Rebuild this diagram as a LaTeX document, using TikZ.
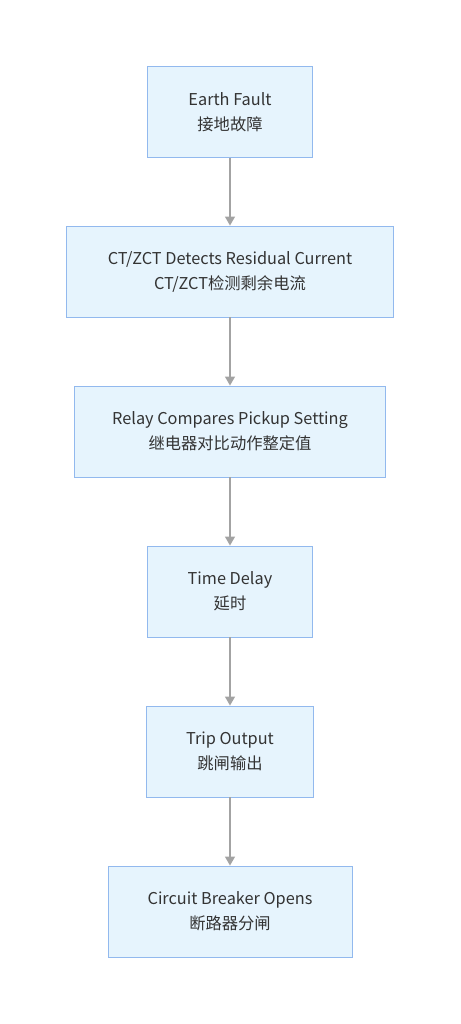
\documentclass[tikz,border=0pt]{standalone}
\usepackage{fontspec}
\setmainfont{Noto Sans CJK SC}
\usetikzlibrary{arrows.meta}

\definecolor{boxFill}{HTML}{E6F4FD}
\definecolor{boxLine}{HTML}{92B9EE}
\definecolor{arrLine}{HTML}{A3A3A3}
\definecolor{txtCol}{HTML}{333333}

\newcommand{\midX }{230pt}
\newcommand{\boxHgt }{91pt}
\newcommand{\linThick }{0.9pt}

\tikzset{
  stepbox/.style={draw=boxLine, fill=boxFill, line width=\linThick, minimum height=\boxHgt,
                  align=center, text=txtCol, font=\fontsize{16.3}{25}\selectfont, inner sep=0pt},
  flowarrow/.style={draw=arrLine, line width=1.2pt, -{Triangle[length=9pt,width=10pt]}}
}

\begin{document}
\begin{tikzpicture}

  \useasboundingbox (0pt,0pt) rectangle (460pt,-1024pt);

  % Boxes:
  \node[stepbox, minimum width=165pt] (fault)   at (\midX , -112pt) {Earth Fault\\接地故障};
  \node[stepbox, minimum width=327pt] (detect)  at (\midX , -271.5pt) {CT/ZCT Detects Residual Current\\CT/ZCT检测剩余电流};
  \node[stepbox, minimum width=311pt] (compare) at (\midX , -431.5pt) {Relay Compares Pickup Setting\\继电器对比动作整定值};
  \node[stepbox, minimum width=165pt] (delay)   at (\midX , -591.5pt) {Time Delay\\延时};
  \node[stepbox, minimum width=167pt] (trip)    at (\midX , -751.5pt) {Trip Output\\跳闸输出};
  \node[stepbox, minimum width=244pt] (breaker) at (\midX , -911.5pt) {Circuit Breaker Opens\\断路器分闸};

  % Arrows:
  \draw[flowarrow] (fault)   -- (detect);
  \draw[flowarrow] (detect)  -- (compare);
  \draw[flowarrow] (compare) -- (delay);
  \draw[flowarrow] (delay)   -- (trip);
  \draw[flowarrow] (trip)    -- (breaker);

\end{tikzpicture}
\end{document}
